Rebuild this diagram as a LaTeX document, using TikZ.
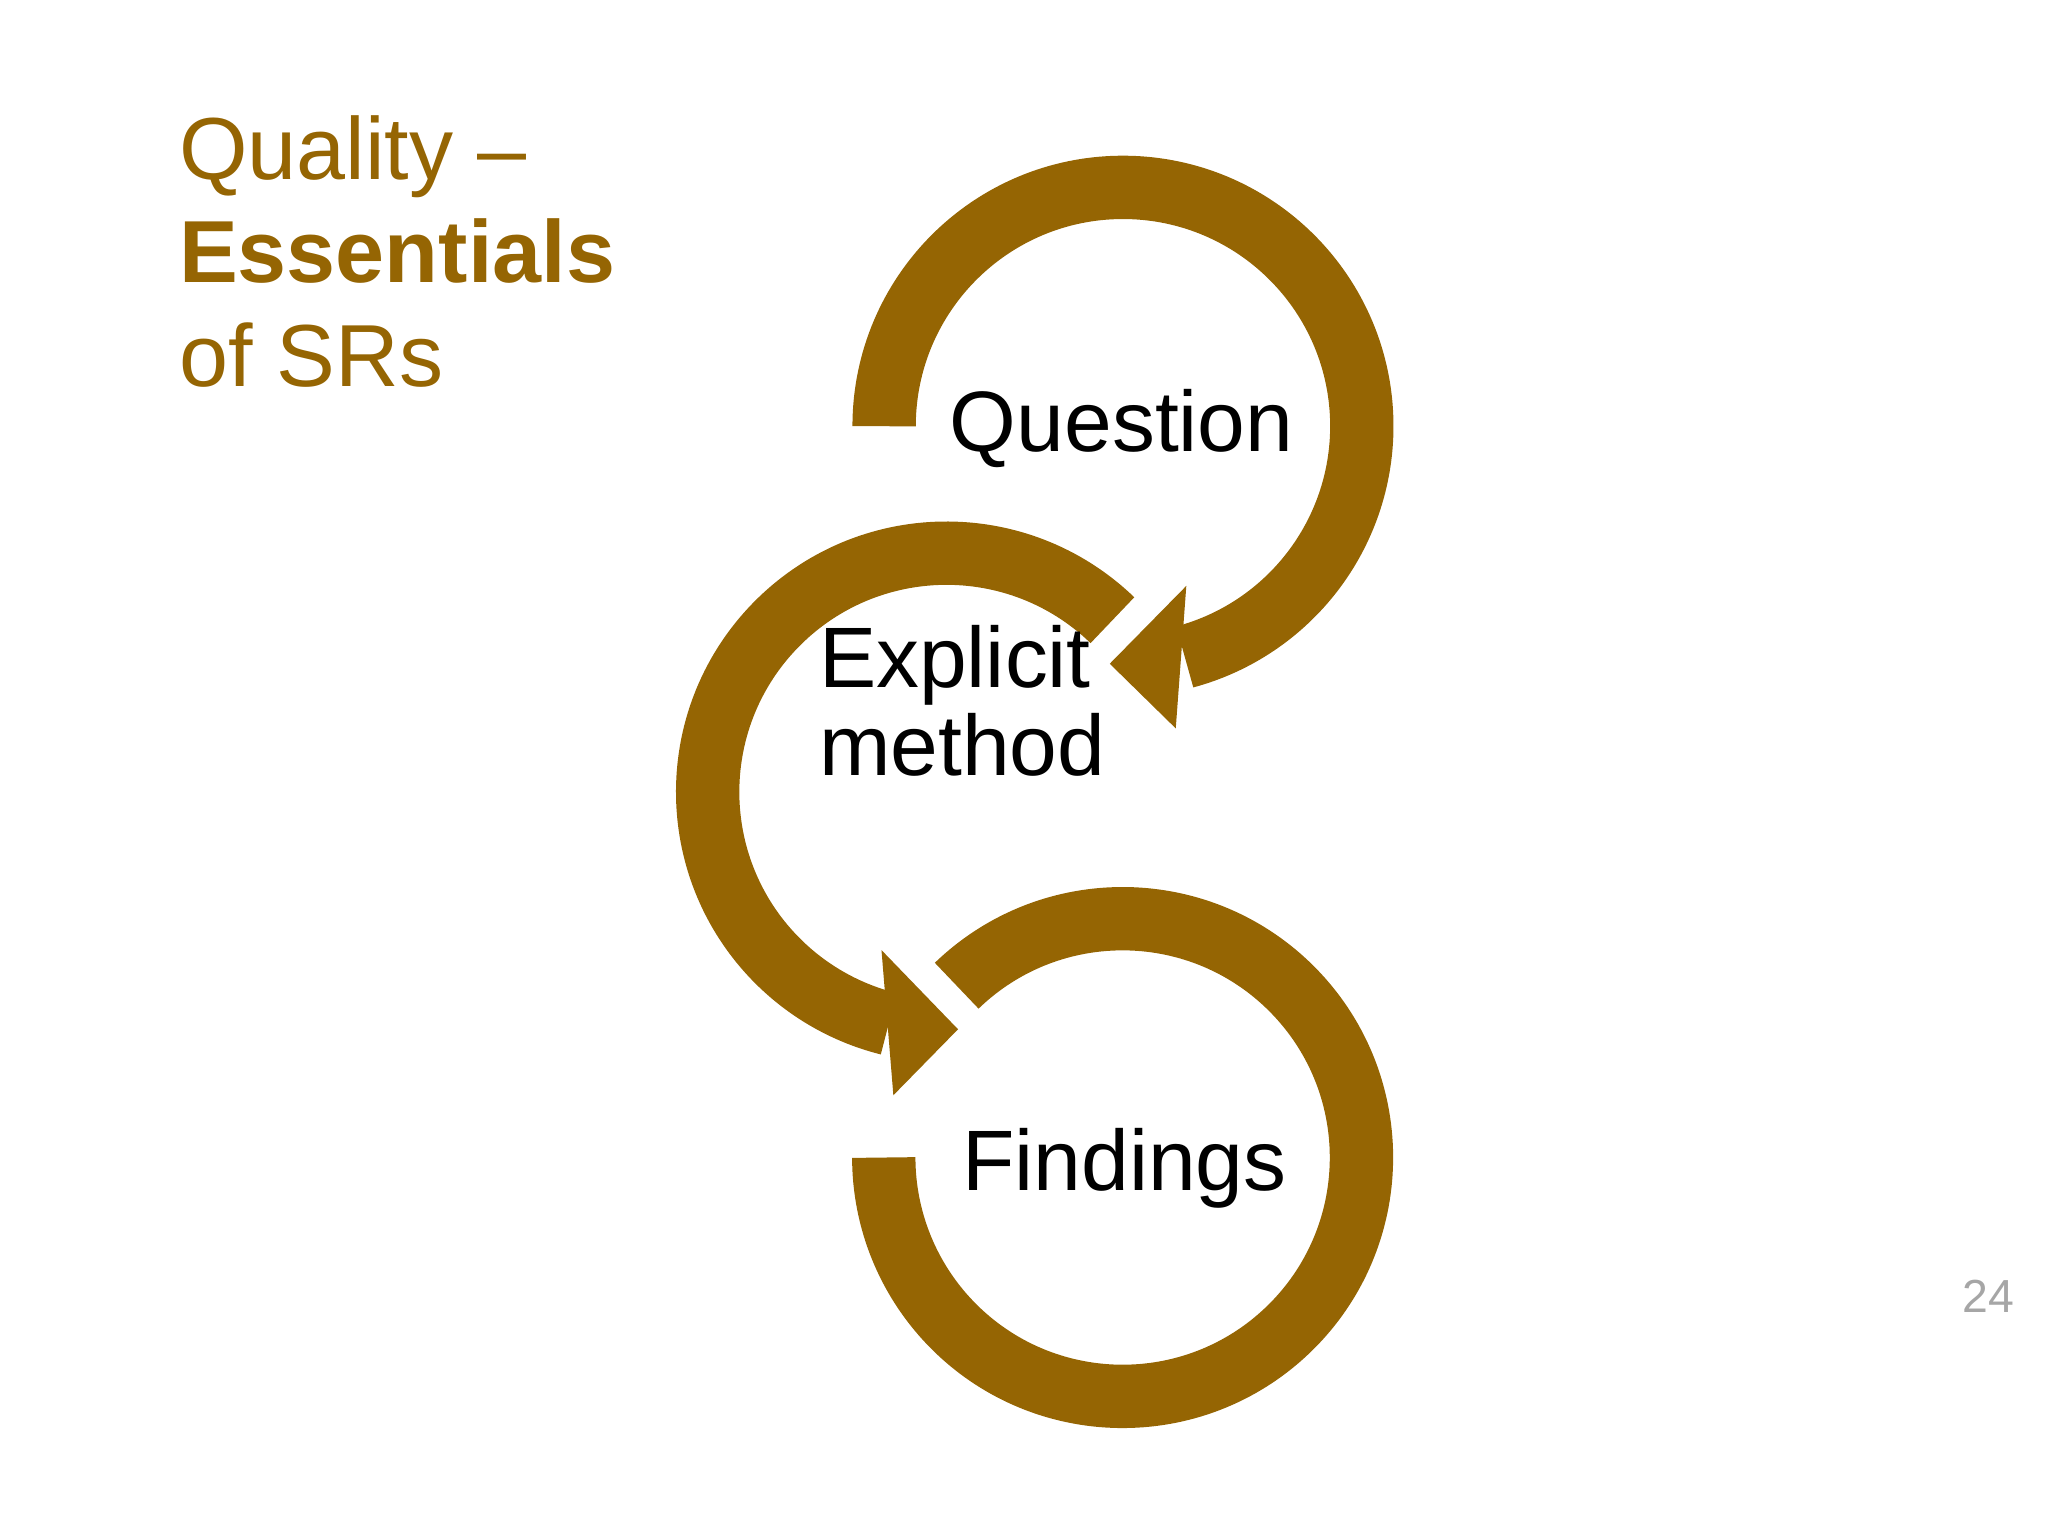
\documentclass[tikz,border=0pt]{standalone}
\usepackage{fontspec}
\setmainfont{Liberation Sans}
\definecolor{brn}{HTML}{956503}
\begin{document}
\begin{tikzpicture}[band/.style={draw=brn,line width=0.48cm,line cap=butt},
 head/.style={fill=brn,draw=none},
 lbl/.style={font=\fontsize{18.5}{22}\selectfont,inner sep=0pt},
 ttl/.style={font=\fontsize{19}{22}\selectfont,text=brn,inner sep=0pt,anchor=base west}]
\useasboundingbox (0,0) rectangle (15.52,-11.64);
% Question
\draw[band] (6.70,-3.23) arc[start angle=180,end angle=-75,radius=1.81];
\fill[head] (8.99,-4.44) -- (8.41,-5.03) -- (8.91,-5.52) -- cycle;
% Explicit method
\draw[band] (8.43,-4.70) arc[start angle=46,end angle=256,radius=1.81];
\fill[head] (6.68,-7.20) -- (7.26,-7.80) -- (6.77,-8.30) -- cycle;
% Findings
\draw[band] (7.25,-7.47) arc[start angle=134,end angle=-180,radius=1.81];
\node[lbl,anchor=base] (q) at (8.50,-3.42) {Question};
\node[lbl,anchor=base west,align=left] (e) at (6.20,-5.88) {Explicit\\[-3pt]method};
\node[lbl,anchor=base] (f) at (8.52,-9.02) {Findings};
\node[ttl] (t1) at (1.35,-1.36) {Quality –};
\node[ttl] (t2) at (1.35,-2.14) {\bfseries Essentials};
\node[ttl] (t3) at (1.35,-2.93) {of SRs};
\node[font=\fontsize{10}{12}\selectfont,text=gray!70,anchor=base] (n) at (15.07,-9.95) {24};
\end{tikzpicture}
\end{document}
